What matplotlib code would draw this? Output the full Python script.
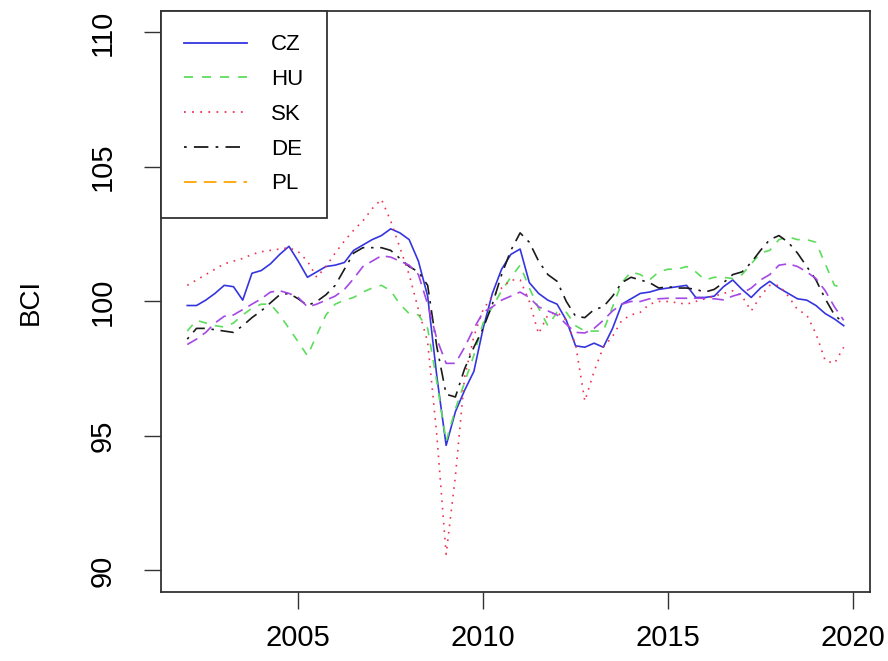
import numpy as np
import matplotlib
matplotlib.use("Agg")
import matplotlib.pyplot as plt
from matplotlib.lines import Line2D

plt.rcParams['font.family'] = ['Liberation Sans', 'DejaVu Sans']

# quarterly business confidence indicator, 2002Q1 - 2019Q4
quarters = 2002 + np.arange(72) / 4

cz = [99.85, 99.85, 100.05, 100.3,
      100.6, 100.55, 100.05, 101.05,
      101.15, 101.4, 101.75, 102.05,
      101.5, 100.9, 101.1, 101.3,
      101.35, 101.45, 101.9, 102.1,
      102.3, 102.45, 102.7, 102.55,
      102.3, 101.5, 100.2, 97.2,
      94.65, 95.9, 96.7, 97.4,
      99.0, 100.3, 101.2, 101.75,
      101.95, 100.7, 100.3, 100.05,
      99.9, 99.3, 98.35, 98.3,
      98.45, 98.3, 99.0, 99.9,
      100.1, 100.3, 100.35, 100.45,
      100.5, 100.55, 100.6, 100.15,
      100.15, 100.2, 100.55, 100.8,
      100.45, 100.15, 100.5, 100.75,
      100.5, 100.3, 100.1, 100.05,
      99.85, 99.55, 99.35, 99.1]

hu = [98.9, 99.3, 99.2, 99.1,
      99.05, 99.2, 99.5, 99.75,
      99.9, 99.9, 99.5, 99.0,
      98.5, 97.98, 98.75, 99.5,
      99.9, 100.05, 100.15, 100.35,
      100.5, 100.6, 100.4, 99.9,
      99.55, 99.5, 99.0, 97.0,
      94.8, 96.0, 97.0, 98.0,
      99.2, 99.8, 100.4, 100.9,
      101.35, 100.5, 99.75, 99.1,
      99.6, 99.6, 99.1, 98.9,
      98.9, 98.9, 99.8, 100.7,
      101.1, 101.0, 100.8, 101.1,
      101.2, 101.2, 101.3, 101.1,
      100.8, 100.9, 100.9, 100.85,
      101.0, 101.4, 101.8, 101.9,
      102.3, 102.4, 102.3, 102.3,
      102.2, 101.4, 100.6, 100.5]

sk = [100.6, 100.8, 101.0, 101.2,
      101.4, 101.5, 101.6, 101.75,
      101.85, 101.9, 101.95, 102.0,
      101.85, 101.5, 100.9, 101.3,
      101.8, 102.25, 102.65, 103.0,
      103.45, 103.8, 103.0, 102.0,
      101.0, 99.7, 98.5, 95.0,
      90.6, 93.5, 97.2, 98.7,
      99.7, 100.2, 100.5, 100.8,
      100.8, 100.0, 98.8, 99.5,
      99.6, 99.3, 98.4, 96.3,
      97.4, 98.3, 98.7, 99.3,
      99.5, 99.6, 99.9, 100.0,
      100.0, 99.95, 99.9, 100.0,
      100.1, 100.2, 100.3, 100.4,
      100.2, 99.65, 100.2, 100.6,
      100.6, 100.2, 99.7, 99.5,
      98.8, 97.8, 97.7, 98.3]

de = [98.6, 99.0, 99.0, 98.95,
      98.9, 98.85, 99.1, 99.4,
      99.65, 99.95, 100.25, 100.3,
      100.1, 99.85, 100.0, 100.25,
      100.6, 101.2, 101.8, 102.0,
      102.0, 102.0, 101.9, 101.6,
      101.3, 101.1, 100.6, 98.3,
      96.55, 96.45, 97.5, 98.3,
      99.0, 99.9, 101.0, 101.9,
      102.55, 102.2, 101.5, 101.0,
      100.75, 100.0, 99.45, 99.4,
      99.7, 99.8, 100.2, 100.7,
      100.9, 100.8, 100.7, 100.5,
      100.55, 100.5, 100.5, 100.45,
      100.35, 100.45, 100.7, 101.0,
      101.1, 101.45, 101.9, 102.3,
      102.45, 102.2, 101.8, 101.3,
      100.8, 100.1, 99.5, 99.2]

pl = [98.4, 98.6, 98.85, 99.2,
      99.45, 99.5, 99.7, 99.9,
      100.1, 100.35, 100.4, 100.3,
      100.15, 99.8, 99.9, 100.05,
      100.2, 100.45, 100.85, 101.3,
      101.5, 101.7, 101.65, 101.5,
      101.35, 101.0, 99.9, 98.6,
      97.7, 97.7, 98.3, 99.0,
      99.6, 99.8, 100.05, 100.2,
      100.35, 100.15, 99.8, 99.65,
      99.5, 99.15, 98.85, 98.83,
      99.0, 99.3, 99.65, 99.9,
      100.0, 100.0, 100.1, 100.1,
      100.12, 100.12, 100.12, 100.12,
      100.12, 100.1, 100.06, 100.2,
      100.3, 100.5, 100.8, 101.0,
      101.35, 101.4, 101.3, 101.1,
      100.85, 100.4, 99.8, 99.3]

labels = ['CZ', 'HU', 'SK', 'DE', 'PL']
line_colors = ['#3535e0', '#5ddc5d', '#ee3355', '#1a1a1a', '#a548e6']
legend_colors = ['#3535e0', '#5ddc5d', '#ee3355', '#1a1a1a', '#ffa500']
styles = ['-', (0, (5, 5)), (0, (1, 3.5)), (0, (1.5, 4, 8, 4)), (0, (7, 4))]

fig = plt.figure(figsize=(8.88, 6.61), dpi=100)
ax = fig.add_axes([0.1813, 0.1044, 0.7984, 0.879])

for vals, col, ls in zip([cz, hu, sk, de, pl], line_colors, styles):
    ax.plot(quarters, vals, color=col, linestyle=ls, linewidth=1.2)

ax.set_xlim(2001.29, 2020.46)
ax.set_ylim(89.2, 110.8)
ax.set_xticks([2005, 2010, 2015, 2020])
ax.set_yticks([90, 95, 100, 105, 110])
ax.tick_params(axis='both', direction='out', length=12, width=1, labelsize=21, color='#333333')
ax.tick_params(axis='x', pad=11)
ax.tick_params(axis='y', pad=20)
for lab in ax.get_yticklabels():
    lab.set_rotation(90)
    lab.set_va('center')
for sp in ax.spines.values():
    sp.set_color('#333333')
    sp.set_linewidth(1.3)
ax.set_ylabel('BCI', fontsize=20, labelpad=32)

handles = [Line2D([], [], color=c, linestyle=s, linewidth=1.3)
           for c, s in zip(legend_colors, styles)]
leg = ax.legend(handles, labels, loc='upper left', bbox_to_anchor=(0, 1),
                borderaxespad=0, fancybox=False, framealpha=1, edgecolor='#333333',
                fontsize=16, handlelength=2.8, handletextpad=1.1, labelspacing=0.62,
                borderpad=1.05)
leg.get_frame().set_linewidth(1.3)

fig.savefig('out.png', dpi=100)
